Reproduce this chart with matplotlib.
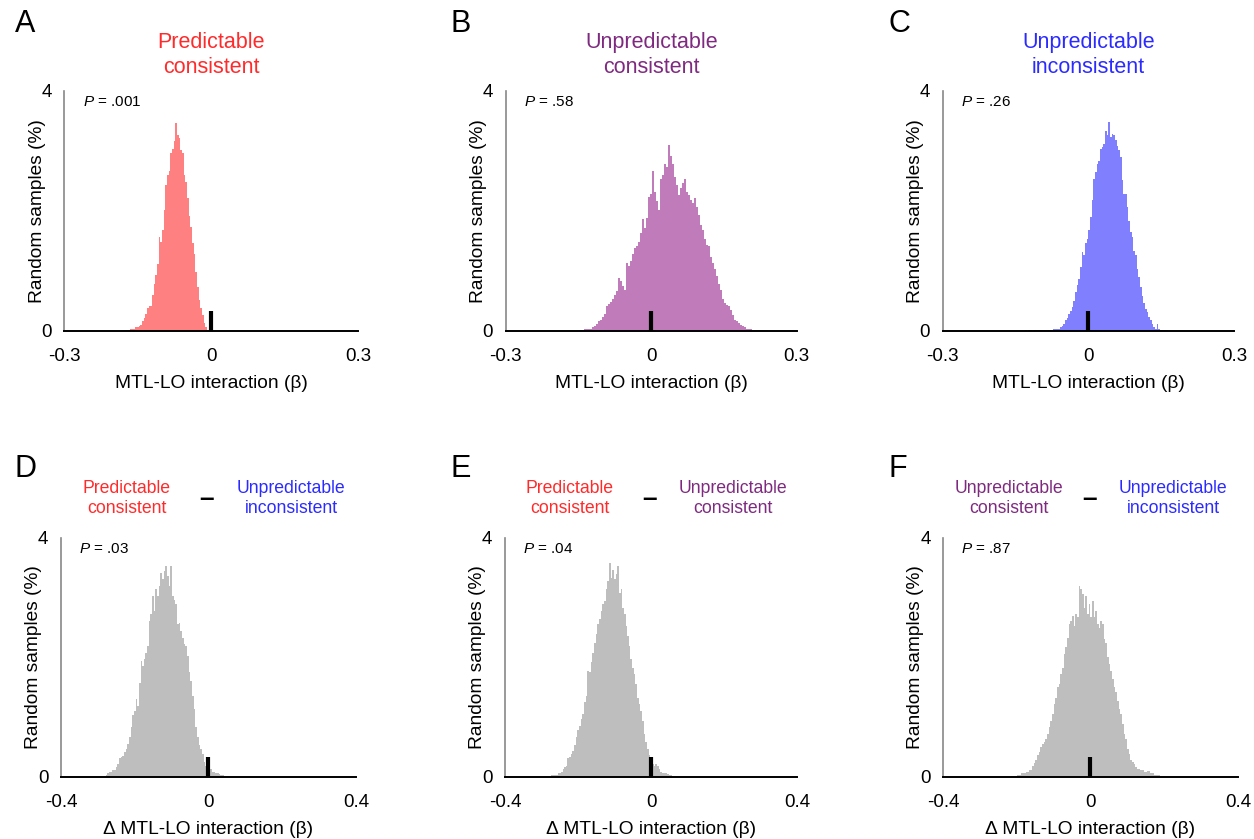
import matplotlib
matplotlib.use("Agg")
import matplotlib.pyplot as plt
import matplotlib.transforms as mtransforms

plt.rcParams['font.family'] = ['Liberation Sans', 'DejaVu Sans']
plt.rcParams['mathtext.fontset'] = 'custom'
plt.rcParams['mathtext.it'] = 'Liberation Sans:italic'
plt.rcParams['mathtext.rm'] = 'Liberation Sans'

# --- Colors ---
RED = '#FF2B2B'
PURPLE = '#7F2A80'
BLUE = '#2B2BFF'
RED_FILL = '#FF8080'
PURPLE_FILL = '#BF7BBA'
BLUE_FILL = '#8080FF'
GRAY_FILL = '#BEBEBE'

# --- Data: histogram bins (left edge of first bin, bin width, heights in %) ---
a_start, a_width = -0.1759, 0.00341
a_heights = [0.01, 0.01, 0.01, 0.03, 0.03, 0.04, 0.06, 0.07, 0.08, 0.10, 0.16, 0.21,
             0.29, 0.39, 0.41, 0.42, 0.60, 0.79, 0.93, 1.12, 1.57, 1.49, 1.68, 2.02,
             2.43, 2.60, 2.66, 2.96, 3.04, 3.16, 3.47, 3.27, 3.21, 3.02, 2.96, 2.60,
             2.49, 2.21, 1.91, 1.74, 1.46, 1.29, 0.99, 0.74, 0.52, 0.39, 0.27, 0.13,
             0.06, 0.02]

b_start, b_width = -0.1519, 0.004124
b_heights = [0.01, 0.02, 0.02, 0.03, 0.03, 0.03, 0.04, 0.07, 0.08, 0.12, 0.16, 0.19,
             0.24, 0.28, 0.41, 0.45, 0.49, 0.53, 0.60, 0.66, 0.88, 0.84, 0.75, 0.69,
             1.13, 1.08, 1.16, 1.29, 1.38, 1.41, 1.49, 1.63, 1.86, 1.71, 1.88, 2.24,
             2.29, 2.66, 2.32, 2.16, 2.02, 2.54, 2.60, 2.79, 2.74, 3.10, 2.92, 2.79,
             2.57, 2.43, 2.27, 2.38, 2.46, 2.54, 2.32, 2.27, 2.18, 2.13, 2.21, 2.07,
             1.93, 1.77, 1.68, 1.54, 1.43, 1.41, 1.24, 1.13, 1.04, 0.91, 0.79, 0.68,
             0.54, 0.46, 0.43, 0.41, 0.35, 0.27, 0.19, 0.16, 0.13, 0.10, 0.08, 0.07,
             0.04, 0.04, 0.03, 0.02, 0.02, 0.02, 0.01, 0.01, 0.01, 0.01, 0.01]

c_start, c_width = -0.1303, 0.003436
c_heights = [0.01, 0.00, 0.01, 0.01, 0.00, 0.01, 0.01, 0.01, 0.01, 0.01,
             0.01, 0.01, 0.01, 0.02, 0.02, 0.02, 0.02, 0.03, 0.03, 0.03, 0.04, 0.06,
             0.09, 0.12, 0.18, 0.22, 0.28, 0.33, 0.40, 0.50, 0.65, 0.76, 0.87, 1.07,
             1.32, 1.26, 1.46, 1.54, 1.68, 1.90, 2.18, 2.54, 2.65, 2.79, 2.84, 3.04,
             3.07, 3.12, 3.34, 3.26, 3.48, 3.23, 3.29, 3.26, 3.18, 3.09, 3.01, 2.90,
             2.51, 2.29, 2.29, 2.07, 1.84, 1.65, 1.57, 1.34, 1.26, 1.04, 0.90, 0.73,
             0.59, 0.46, 0.37, 0.32, 0.24, 0.18, 0.12, 0.07, 0.04, 0.12, 0.04, 0.01,
             0.01, 0.01, 0.01, 0.01]

d_start, d_width = -0.2788, 0.004505
d_heights = [0.04, 0.06, 0.08, 0.08, 0.11, 0.11, 0.17, 0.22, 0.31, 0.33, 0.35, 0.42,
             0.47, 0.56, 0.67, 0.83, 1.03, 1.11, 1.31, 1.19, 1.58, 1.94, 1.86, 1.97,
             2.08, 2.19, 2.61, 2.72, 3.03, 2.78, 3.14, 3.03, 3.19, 3.42, 3.31, 3.44,
             3.53, 3.36, 3.19, 3.53, 3.03, 2.97, 2.89, 2.56, 2.58, 2.44, 2.33, 2.22,
             2.19, 2.03, 1.75, 1.61, 1.36, 1.14, 0.83, 0.67, 0.53, 0.47, 0.39, 0.25,
             0.19, 0.17, 0.17, 0.14, 0.09, 0.08, 0.07, 0.06, 0.05, 0.04, 0.03, 0.02,
             0.02, 0.01]

e_start, e_width = -0.2742, 0.004541
e_heights = [0.03, 0.03, 0.04, 0.04, 0.06, 0.06, 0.08, 0.13, 0.17, 0.19, 0.31, 0.33,
             0.39, 0.44, 0.53, 0.67, 0.78, 0.86, 0.97, 1.06, 1.25, 1.36, 1.78, 1.75,
             1.92, 2.08, 2.25, 2.39, 2.56, 2.64, 2.78, 2.89, 2.94, 3.14, 3.28, 3.58,
             3.33, 3.47, 3.31, 3.39, 3.53, 3.08, 3.14, 2.83, 2.72, 2.53, 2.36, 2.19,
             1.97, 1.83, 1.72, 1.56, 1.33, 1.22, 1.11, 0.94, 0.72, 0.58, 0.47, 0.36,
             0.25, 0.22, 0.19, 0.22, 0.19, 0.14, 0.09, 0.07, 0.06, 0.06, 0.05, 0.03,
             0.03, 0.02, 0.01, 0.01, 0.01, 0.01]

f_start, f_width = -0.2169, 0.004517
f_heights = [0.02, 0.02, 0.02, 0.02, 0.04, 0.04, 0.06, 0.06, 0.06, 0.08, 0.08, 0.11,
             0.11, 0.19, 0.23, 0.28, 0.36, 0.42, 0.50, 0.56, 0.58, 0.64, 0.72, 0.83,
             0.94, 1.06, 1.22, 1.33, 1.50, 1.56, 1.72, 1.83, 2.06, 2.17, 2.33, 2.56,
             2.61, 2.69, 2.53, 2.72, 2.67, 3.19, 3.14, 3.06, 2.83, 3.03, 2.72, 2.89,
             2.67, 2.94, 2.67, 2.78, 2.56, 2.50, 2.61, 2.56, 2.31, 2.25, 2.00, 1.89,
             1.78, 1.64, 1.50, 1.42, 1.28, 1.14, 1.06, 0.89, 0.72, 0.64, 0.47, 0.39,
             0.29, 0.25, 0.22, 0.17, 0.14, 0.14, 0.11, 0.11, 0.08, 0.08, 0.10, 0.10,
             0.06, 0.06, 0.03, 0.03, 0.03, 0.03, 0.01, 0.01]

p_values = ['.001', '.58', '.26', '.03', '.04', '.87']
null_value = 0.0
null_mark_height = 0.33

top_xticks = [-0.3, 0, 0.3]
top_xticklabels = ['-0.3', '0', '0.3']
bot_xticks = [-0.4, 0, 0.4]
bot_xticklabels = ['-0.4', '0', '0.4']

fig = plt.figure(figsize=(12.54, 8.39), dpi=100)


def draw_panel(rect, start, width, heights, fill, xticks, xticklabels, xlabel, pval):
    ax = fig.add_axes(rect)
    edges = [start + i * width for i in range(len(heights) + 1)]
    ax.stairs(heights, edges, fill=True, color=fill, linewidth=0)
    ax.plot([null_value, null_value], [0, null_mark_height], color='black', lw=3,
            solid_capstyle='butt')
    ax.set_xlim(xticks[0], xticks[-1])
    ax.set_ylim(0, 4)
    ax.set_xticks(xticks)
    ax.set_xticklabels(xticklabels)
    ax.set_yticks([0, 4])
    ax.set_yticklabels(['0', '4'])
    ax.tick_params(axis='both', length=0, labelsize=13.5)
    ax.tick_params(axis='x', pad=12)
    ax.tick_params(axis='y', pad=9)
    for s in ['top', 'right']:
        ax.spines[s].set_visible(False)
    ax.spines['left'].set_color('#888888')
    ax.spines['left'].set_linewidth(1.2)
    ax.spines['bottom'].set_color('black')
    ax.spines['bottom'].set_linewidth(1.4)
    ax.set_xlabel(xlabel, fontsize=13.8)
    ax.xaxis.set_label_coords(0.5, -0.183)
    ax.set_ylabel('Random samples (%)', fontsize=13.8)
    ax.yaxis.set_label_coords(-0.064, 0.5)
    ax.text(0.062, 0.955, r'$\it{P}$ = ' + pval, transform=ax.transAxes,
            fontsize=11, ha='left', va='center')
    return ax


top_rects = [[0.0514, 0.6055, 0.2341, 0.2861],
             [0.4033, 0.6055, 0.2321, 0.2861],
             [0.7517, 0.6055, 0.2323, 0.2861]]
bot_rects = [[0.0486, 0.0739, 0.2352, 0.2849],
             [0.4027, 0.0739, 0.2329, 0.2849],
             [0.7520, 0.0739, 0.2352, 0.2849]]

xl_top = 'MTL-LO interaction (β)'
xl_bot = 'Δ MTL-LO interaction (β)'

axA = draw_panel(top_rects[0], a_start, a_width, a_heights, RED_FILL,
                 top_xticks, top_xticklabels, xl_top, p_values[0])
axB = draw_panel(top_rects[1], b_start, b_width, b_heights, PURPLE_FILL,
                 top_xticks, top_xticklabels, xl_top, p_values[1])
axC = draw_panel(top_rects[2], c_start, c_width, c_heights, BLUE_FILL,
                 top_xticks, top_xticklabels, xl_top, p_values[2])
axD = draw_panel(bot_rects[0], d_start, d_width, d_heights, GRAY_FILL,
                 bot_xticks, bot_xticklabels, xl_bot, p_values[3])
axE = draw_panel(bot_rects[1], e_start, e_width, e_heights, GRAY_FILL,
                 bot_xticks, bot_xticklabels, xl_bot, p_values[4])
axF = draw_panel(bot_rects[2], f_start, f_width, f_heights, GRAY_FILL,
                 bot_xticks, bot_xticklabels, xl_bot, p_values[5])

# top titles
for ax, label, col in [(axA, 'Predictable\nconsistent', RED),
                       (axB, 'Unpredictable\nconsistent', PURPLE),
                       (axC, 'Unpredictable\ninconsistent', BLUE)]:
    tr = mtransforms.blended_transform_factory(ax.transData, ax.transAxes)
    ax.text(0, 1.150, label, transform=tr, color=col, fontsize=15.5,
            ha='center', va='center', linespacing=1.3)

# bottom titles (difference)
for ax, l1, c1, l2, c2 in [(axD, 'Predictable\nconsistent', RED, 'Unpredictable\ninconsistent', BLUE),
                           (axE, 'Predictable\nconsistent', RED, 'Unpredictable\nconsistent', PURPLE),
                           (axF, 'Unpredictable\nconsistent', PURPLE, 'Unpredictable\ninconsistent', BLUE)]:
    tr = mtransforms.blended_transform_factory(ax.transData, ax.transAxes)
    ax.text(-0.222, 1.166, l1, transform=tr, color=c1, fontsize=12.7,
            ha='center', va='center', linespacing=1.25)
    ax.text(0.224, 1.166, l2, transform=tr, color=c2, fontsize=12.7,
            ha='center', va='center', linespacing=1.25)
    ax.text(-0.004, 1.161, '–', transform=tr, color='black', fontsize=19,
            fontweight='bold', ha='center', va='center')

# panel letters
for x, y, letter in [(0.0199, 0.9714, 'A'), (0.3676, 0.9714, 'B'), (0.7169, 0.9714, 'C'),
                     (0.0207, 0.441, 'D'), (0.3676, 0.441, 'E'), (0.7161, 0.441, 'F')]:
    fig.text(x, y, letter, fontsize=22, ha='center', va='center')

fig.savefig('out.png', dpi=100)
